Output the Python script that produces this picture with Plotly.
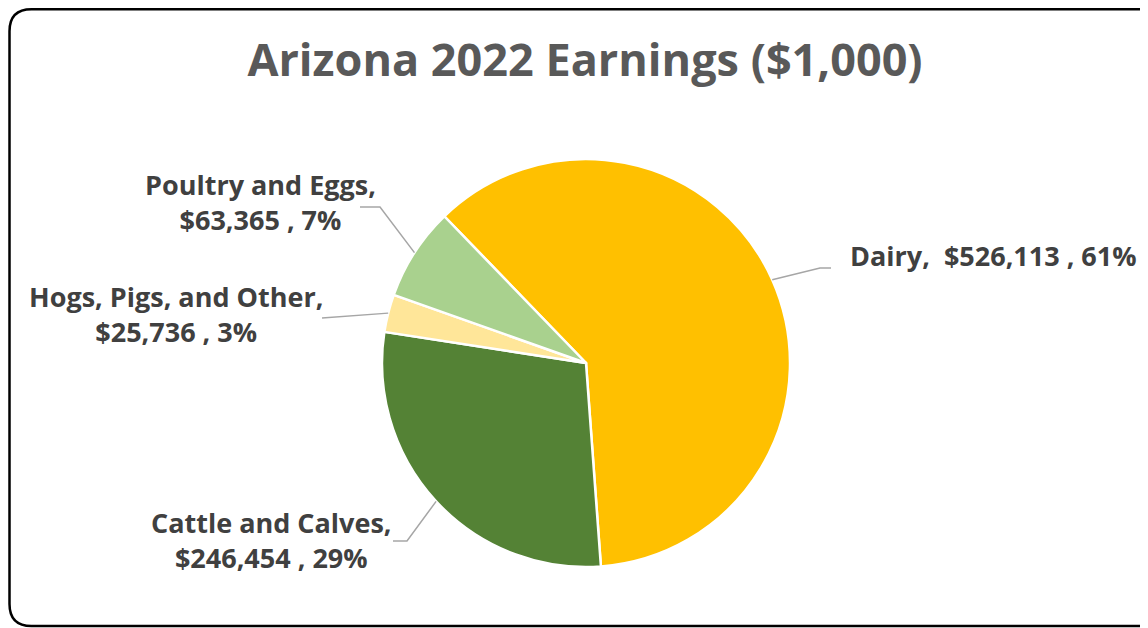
import math

import plotly.graph_objects as go

# the page body keeps its default 8px margin, so the figure is drawn 8px in
W, H = 1140, 620
OFF = 8

categories = ["Dairy", "Cattle and Calves", "Hogs, Pigs, and Other", "Poultry and Eggs"]
earnings = [526113, 246454, 25736, 63365]
label_texts = [
    "Dairy,  $526,113 , 61%",
    "Cattle and Calves,<br>$246,454 , 29%",
    "Hogs, Pigs, and Other,<br>$25,736 , 3%",
    "Poultry and Eggs,<br>$63,365 , 7%",
]
colors = ["#FFC000", "#548235", "#FFE699", "#A9D18E"]

ROTATION = -44
CX, CY, R = 586, 363, 204
FONT = "Open Sans, sans-serif"


def px(x):
    return (x - OFF) / W


def py(y):
    return 1 - (y - OFF) / H


fig = go.Figure()
fig.add_trace(
    go.Pie(
        labels=categories,
        values=earnings,
        sort=False,
        direction="clockwise",
        rotation=ROTATION,
        marker={"colors": colors, "line": {"color": "white", "width": 2.5}},
        textinfo="none",
        hoverinfo="label+value+percent",
        domain={"x": [px(CX - R), px(CX + R)], "y": [py(CY + R), py(CY - R)]},
        showlegend=False,
    )
)

# label placement: text x, text y, anchor, elbow points of the leader line
label_pos = {
    "Dairy": (848, 255, "left", [(820, 268), (831, 268)]),
    "Cattle and Calves": (271, 540, "center", [(407, 541), (393, 541)]),
    "Hogs, Pigs, and Other": (176, 314, "center", [(322, 318)]),
    "Poultry and Eggs": (260, 202, "center", [(380, 207), (360, 207)]),
}

total = sum(earnings)
cum = 0
shapes = []
annotations = []
for cat, val, txt in zip(categories, earnings, label_texts):
    mid = ROTATION + (cum + val / 2) / total * 360
    cum += val
    ax = CX + R * math.sin(math.radians(mid))
    ay = CY - R * math.cos(math.radians(mid))
    tx, ty, anchor, elbow = label_pos[cat]
    pts = [(ax, ay)] + elbow
    path = "M " + " L ".join(f"{px(x):.5f},{py(y):.5f}" for x, y in pts)
    shapes.append(
        {
            "type": "path",
            "path": path,
            "xref": "paper",
            "yref": "paper",
            "line": {"color": "#A6A6A6", "width": 1.5},
        }
    )
    annotations.append(
        {
            "x": px(tx),
            "y": py(ty),
            "xref": "paper",
            "yref": "paper",
            "text": txt,
            "showarrow": False,
            "xanchor": anchor,
            "yanchor": "middle",
            "align": "center",
            "font": {"family": FONT, "size": 27, "color": "#404040", "weight": "bold"},
        }
    )

# rounded chart border
x0, y0, x1, y1, rr = 9.5, 9.3, 1165, 626, 22
border = (
    f"M {px(x0 + rr)},{py(y0)} L {px(x1 - rr)},{py(y0)} "
    f"Q {px(x1)},{py(y0)} {px(x1)},{py(y0 + rr)} L {px(x1)},{py(y1 - rr)} "
    f"Q {px(x1)},{py(y1)} {px(x1 - rr)},{py(y1)} L {px(x0 + rr)},{py(y1)} "
    f"Q {px(x0)},{py(y1)} {px(x0)},{py(y1 - rr)} L {px(x0)},{py(y0 + rr)} "
    f"Q {px(x0)},{py(y0)} {px(x0 + rr)},{py(y0)} Z"
)
shapes.append(
    {
        "type": "path",
        "path": border,
        "xref": "paper",
        "yref": "paper",
        "line": {"color": "black", "width": 2.5},
    }
)

fig.update_layout(
    width=W,
    height=H,
    margin={"l": 0, "r": 0, "t": 0, "b": 0},
    paper_bgcolor="white",
    plot_bgcolor="white",
    title={
        "text": "Arizona 2022 Earnings ($1,000)",
        "x": px(585),
        "xanchor": "center",
        "y": py(60),
        "yanchor": "middle",
        "font": {"family": FONT, "size": 45, "color": "#595959", "weight": "bold"},
    },
    shapes=shapes,
    annotations=annotations,
)

fig.write_html("out.html")
